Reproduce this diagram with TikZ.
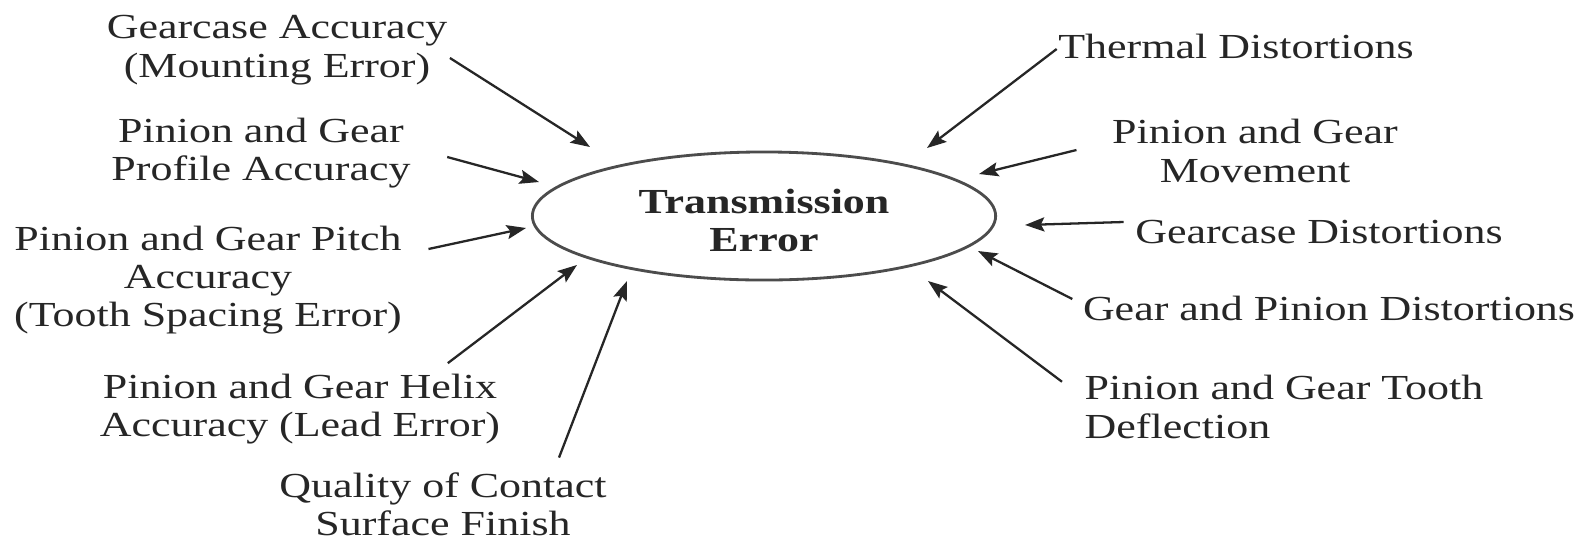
\documentclass[tikz,border=0pt]{standalone}
\usepackage{fontspec}
\setmainfont{Liberation Serif}[FakeStretch=1.25]
\usepackage{tikz}
\usetikzlibrary{arrows.meta,shapes.geometric,calc}

\tikzset{
  lbl/.style={font=\fontsize{10}{10.9}\selectfont, text=black!85, align=center, inner sep=0pt},
  arr/.style={-{Stealth[length=5.5pt,width=4pt,inset=1pt]}, line width=0.65pt, black!85},
}

\begin{document}
\begin{tikzpicture}[x=0.01cm,y=-0.01cm]
\useasboundingbox (0,0) rectangle (1586,539);
\fill[white] (0,0) rectangle (1586,539);
\node[ellipse, draw=black!70, line width=0.8pt, minimum width=4.63cm, minimum height=1.28cm, lbl, inner sep=0pt, text height=20pt, font=\bfseries\fontsize{10}{10.8}\selectfont] (te) at (764,216) {Transmission\\Error};
\node[lbl] (gca) at (277,50) {Gearcase Accuracy\\(Mounting Error)};
\node[lbl] (pgp) at (261,153) {Pinion and Gear\\Profile Accuracy};
\node[lbl] (pgpa) at (208,280) {Pinion and Gear Pitch\\Accuracy\\(Tooth Spacing Error)};
\node[lbl] (pgh) at (300,409) {Pinion and Gear Helix\\Accuracy (Lead Error)};
\node[lbl] (qc) at (443,504) {Quality of Contact\\Surface Finish};
\node[lbl] (td) at (1236,46) {Thermal Distortions};
\node[lbl] (pgm) at (1255,151) {Pinion and Gear\\Movement};
\node[lbl] (gd) at (1319,232) {Gearcase Distortions};
\node[lbl] (gpd) at (1329,308) {Gear and Pinion Distortions};
\node[lbl, align=left, anchor=west] (pgt) at (1084,407) {Pinion and Gear Tooth\\Deflection};
\coordinate (h1) at (590,147);
\coordinate (h2) at (539,182);
\coordinate (h3) at (526,228);
\coordinate (h4) at (577,265);
\coordinate (h5) at (627,281);
\coordinate (h6) at (927,148);
\coordinate (h7) at (979,174);
\coordinate (h8) at (1025,225);
\coordinate (h9) at (978,251);
\coordinate (h10) at (928,281);
\draw[arr] ($(gca.east)+(2,8)$) -- (h1);
\draw[arr] ($(pgp.east)+(36,4)$) -- (h2);
\draw[arr] ($(pgpa.east)+(26,-31)$) -- (h3);
\draw[arr] ($(pgh.north east)+(-53,-10)$) -- (h4);
\draw[arr] ($(qc.north)+(116,-14)$) -- (h5);
\draw[arr] ($(td.west)+(-1,3)$) -- (h6);
\draw[arr] ($(pgm.west)+(-35,-1)$) -- (h7);
\draw[arr] ($(gd.west)+(-11,-10)$) -- (h8);
\draw[arr] ($(gpd.west)+(-10,-9)$) -- (h9);
\draw[arr] ($(pgt.north west)+(-22,7)$) -- (h10);
\end{tikzpicture}
\end{document}
